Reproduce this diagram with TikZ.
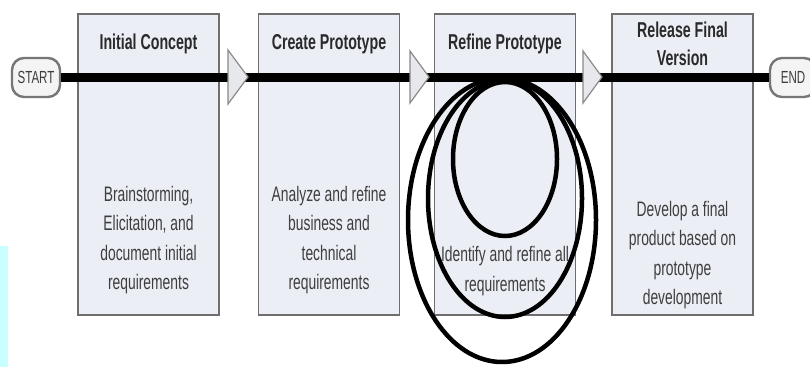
\documentclass[tikz,border=0pt]{standalone}
\usepackage{fontspec}
\newfontfamily\narrowsans{Liberation Sans}[FakeStretch=0.66]
\begin{document}
\begin{tikzpicture}[x=1pt,y=-1pt,
  stage/.style={draw=boxline,fill=boxfill,line width=1.6pt,minimum width=141pt,minimum height=301pt,inner sep=0pt},
  stagetitle/.style={font=\narrowsans\bfseries\fontsize{21.5}{28}\selectfont,text=titletext,align=center,inner sep=0pt},
  stagetext/.style={font=\narrowsans\fontsize{21}{29.5}\selectfont,text=bodytext,align=center,inner sep=0pt},
  pill/.style={draw=pillline,fill=pillfill,line width=2.4pt,rounded corners=12pt,minimum height=39pt,inner sep=0pt,font=\narrowsans\fontsize{17.5}{18}\selectfont,text=bodytext},
  flowline/.style={line width=8.5pt,black},
  marker/.style={draw=triline,fill=trifill,line width=1.2pt,line join=miter},
  loopline/.style={line width=4.5pt,black}
]
\definecolor{boxline}{HTML}{6E6E6E}
\definecolor{boxfill}{HTML}{ECEEF6}
\definecolor{titletext}{HTML}{2A2A2A}
\definecolor{bodytext}{HTML}{3E3E3E}
\definecolor{pillline}{HTML}{767676}
\definecolor{pillfill}{HTML}{F4F4F4}
\definecolor{triline}{HTML}{8A8A8A}
\definecolor{trifill}{HTML}{E6E8EC}
\definecolor{sidebar}{HTML}{C8FFFF}

\clip (0,0) rectangle (810,367);
\fill[white] (0,0) rectangle (810,367);
\fill[sidebar] (0,246) rectangle (8,367);

% stage boxes
\node[stage] (b1) at (148.5,164.5) {};
\node[stage] (b2) at (329,164.5) {};
\node[stage] (b3) at (505,164.5) {};
\node[stage] (b4) at (682.5,164.5) {};

% start / end terminals
\node[pill,minimum width=48pt] (start) at (36,77.5) {START};
\node[pill,minimum width=46pt] (end) at (793,77.5) {END};

% main flow line
\draw[flowline] (start.east) -- (end.west);

% direction markers on the flow line
\draw[marker] (228,50) -- (248,77) -- (228,104) -- cycle;
\draw[marker] (410,51) -- (429,77) -- (410,103) -- cycle;
\draw[marker] (583,51) -- (602,77) -- (583,103) -- cycle;

% stage titles
\node[stagetitle] (h1) at (148.5,44) {Initial Concept};
\node[stagetitle] (h2) at (329,44) {Create Prototype};
\node[stagetitle] (h3) at (505,44) {Refine Prototype};
\node[stagetitle] (h4) at (682.5,44) {Release Final\\Version};

% stage descriptions
\node[stagetext] (d1) at (148.5,240) {Brainstorming,\\Elicitation, and\\document initial\\requirements};
\node[stagetext] (d2) at (329,240) {Analyze and refine\\business and\\technical\\requirements};
\node[stagetext] (d3) at (505,271) {Identify and refine all\\requirements};
\node[stagetext] (d4) at (682.5,255) {Develop a final\\product based on\\prototype\\development};

% iteration loops in the refine stage
\draw[loopline] (505,159) ellipse [x radius=52pt, y radius=77pt];
\draw[loopline] (505,198.5) ellipse [x radius=77pt, y radius=118.5pt];
\draw[loopline] (502,220) ellipse [x radius=94pt, y radius=142pt];
\end{tikzpicture}
\end{document}
